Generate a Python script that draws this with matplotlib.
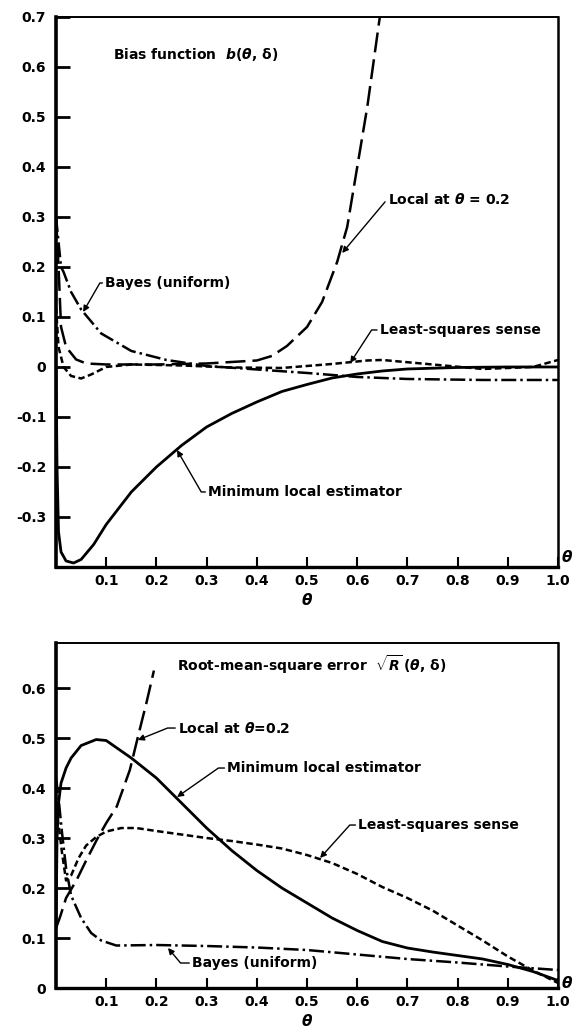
import matplotlib
matplotlib.use('Agg')
import matplotlib.pyplot as plt

# --- DATOS ---

# Panel superior: función de sesgo b(theta, delta)
theta_min_b = [0.0, 0.002, 0.005, 0.01, 0.02, 0.035, 0.05, 0.075, 0.1, 0.15, 0.2, 0.25,
               0.3, 0.35, 0.4, 0.45, 0.5, 0.55, 0.6, 0.65, 0.7, 0.8, 0.9, 1.0]
bias_min = [0.0, -0.2, -0.33, -0.37, -0.388, -0.392, -0.385, -0.355, -0.315, -0.25, -0.2, -0.157,
            -0.12, -0.093, -0.07, -0.049, -0.035, -0.022, -0.014, -0.008, -0.004, -0.001, 0.0, 0.0]

theta_local_b = [0.0, 0.005, 0.01, 0.02, 0.04, 0.06, 0.1, 0.2, 0.3, 0.4, 0.43, 0.46,
                 0.5, 0.53, 0.56, 0.58, 0.6, 0.62, 0.645]
bias_local = [0.3, 0.2, 0.08, 0.04, 0.015, 0.007, 0.005, 0.005, 0.007, 0.013, 0.022, 0.042,
              0.08, 0.13, 0.21, 0.28, 0.40, 0.52, 0.70]

theta_ls_b = [0.0, 0.005, 0.015, 0.03, 0.05, 0.07, 0.1, 0.15, 0.25, 0.35, 0.45, 0.55,
              0.62, 0.65, 0.75, 0.85, 0.95, 1.0]
bias_ls = [0.12, 0.04, 0.0, -0.018, -0.023, -0.015, 0.0, 0.005, 0.003, -0.001, -0.002, 0.006,
           0.013, 0.014, 0.005, -0.004, 0.0, 0.014]

theta_bayes_b = [0.0, 0.01, 0.015, 0.03, 0.05, 0.09, 0.15, 0.22, 0.3, 0.4, 0.5, 0.6, 0.7, 0.85, 1.0]
bias_bayes = [0.3, 0.2, 0.19, 0.15, 0.115, 0.067, 0.032, 0.014, 0.002, -0.005, -0.012, -0.02,
              -0.024, -0.026, -0.026]

# Panel inferior: error cuadrático medio (raíz)
theta_min_r = [0.0, 0.002, 0.005, 0.01, 0.02, 0.03, 0.05, 0.08, 0.1, 0.15, 0.2, 0.25, 0.3,
               0.35, 0.4, 0.45, 0.5, 0.55, 0.6, 0.65, 0.7, 0.75, 0.8, 0.85, 0.9, 0.95, 1.0]
rmse_min = [0.12, 0.3, 0.37, 0.41, 0.44, 0.46, 0.485, 0.497, 0.495, 0.46, 0.42, 0.37, 0.32,
            0.275, 0.235, 0.2, 0.17, 0.14, 0.115, 0.093, 0.08, 0.072, 0.065, 0.058, 0.047, 0.033, 0.015]

theta_local_r = [0.0, 0.008, 0.02, 0.041, 0.06, 0.081, 0.1, 0.121, 0.147, 0.165, 0.18, 0.195]
rmse_local = [0.12, 0.142, 0.18, 0.216, 0.255, 0.296, 0.33, 0.363, 0.436, 0.51, 0.57, 0.635]

theta_ls_r = [0.0, 0.006, 0.012, 0.02, 0.03, 0.045, 0.06, 0.08, 0.1, 0.13, 0.16, 0.2, 0.25,
              0.3, 0.35, 0.4, 0.45, 0.5, 0.55, 0.6, 0.65, 0.7, 0.75, 0.8, 0.85, 0.9, 0.95, 1.0]
rmse_ls = [0.36, 0.32, 0.27, 0.215, 0.225, 0.26, 0.285, 0.302, 0.313, 0.32, 0.32, 0.314, 0.307,
           0.3, 0.294, 0.287, 0.279, 0.266, 0.25, 0.228, 0.202, 0.18, 0.155, 0.125, 0.095, 0.063, 0.035, 0.01]

theta_bayes_r = [0.0, 0.005, 0.012, 0.02, 0.03, 0.05, 0.07, 0.09, 0.12, 0.2, 0.3, 0.4, 0.5,
                 0.6, 0.7, 0.8, 0.9, 1.0]
rmse_bayes = [0.42, 0.38, 0.31, 0.24, 0.185, 0.14, 0.11, 0.095, 0.085, 0.086, 0.084, 0.081,
              0.076, 0.067, 0.058, 0.051, 0.043, 0.036]

x_ticks = [0.1, 0.2, 0.3, 0.4, 0.5, 0.6, 0.7, 0.8, 0.9, 1.0]
x_ticklabels = ['0.1', '0.2', '0.3', '0.4', '0.5', '0.6', '0.7', '0.8', '0.9', '1.0']
y_ticks_top = [0.7, 0.6, 0.5, 0.4, 0.3, 0.2, 0.1, 0.0, -0.1, -0.2, -0.3]
y_ticklabels_top = ['0.7', '0.6', '0.5', '0.4', '0.3', '0.2', '0.1', '0', '-0.1', '-0.2', '-0.3']
y_ticks_bot = [0.6, 0.5, 0.4, 0.3, 0.2, 0.1, 0.0]
y_ticklabels_bot = ['0.6', '0.5', '0.4', '0.3', '0.2', '0.1', '0']

# --- ESTILO ---
plt.rcParams['font.family'] = ['DejaVu Sans']
plt.rcParams['mathtext.fontset'] = 'custom'
plt.rcParams['mathtext.it'] = 'DejaVu Sans:bold:italic'
plt.rcParams['mathtext.rm'] = 'DejaVu Sans:bold'
plt.rcParams['mathtext.bf'] = 'DejaVu Sans:bold'

LW = 1.8
st_solid = dict(color='black', lw=2.0, linestyle='-')
st_local = dict(color='black', lw=LW, linestyle=(0, (8, 2.8)))
st_ls = dict(color='black', lw=LW, linestyle=(0, (2.6, 1.4)))
st_bayes = dict(color='black', lw=LW, linestyle=(0, (6, 1.6, 1.0, 1.6)))

TXT = dict(fontsize=10, fontweight='bold', color='black')


def arrow_props(angle_b):
    return dict(arrowstyle='-|>', color='black', lw=1.0, mutation_scale=9,
                shrinkA=0, shrinkB=0, relpos=(0, 0.5),
                connectionstyle=f'angle,angleA=0,angleB={angle_b},rad=0')


def style_axes(ax, yticks, ylabels):
    ax.set_xlim(0, 1.0)
    ax.set_xticks(x_ticks)
    ax.set_xticklabels(x_ticklabels)
    ax.set_yticks(yticks)
    ax.set_yticklabels(ylabels)
    ax.tick_params(axis='y', direction='in', length=10, width=2, pad=7, labelsize=10)
    ax.tick_params(axis='x', direction='in', length=7, width=1.5, pad=5, labelsize=10)
    for lab in ax.get_xticklabels() + ax.get_yticklabels():
        lab.set_fontweight('bold')
    ax.spines['left'].set_linewidth(2.6)
    ax.spines['bottom'].set_linewidth(2.4)
    ax.spines['right'].set_linewidth(1.8)
    ax.spines['top'].set_linewidth(1.4)
    ax.set_xlabel(r'$\theta$', fontsize=11, labelpad=3)


fig = plt.figure(figsize=(5.74, 10.35), dpi=100)
ax1 = fig.add_axes([0.0976, 0.4522, 0.8746, 0.5314])
ax2 = fig.add_axes([0.0976, 0.0454, 0.8746, 0.3333])

# --- PANEL SUPERIOR ---
ax1.plot(theta_min_b, bias_min, **st_solid)
ax1.plot(theta_local_b, bias_local, **st_local)
ax1.plot(theta_ls_b, bias_ls, **st_ls)
ax1.plot(theta_bayes_b, bias_bayes, **st_bayes)
ax1.set_ylim(-0.4, 0.7)
style_axes(ax1, y_ticks_top, y_ticklabels_top)

ax1.text(0.113, 0.624, r'Bias function  $b(\theta,\,\mathrm{\delta})$', va='center', ha='left', **TXT)
ax1.annotate('Bayes (uniform)', xy=(0.054, 0.11), xytext=(0.098, 0.168),
             va='center', ha='left', arrowprops=arrow_props(60), **TXT)
ax1.annotate(r'Local at $\theta$ = 0.2', xy=(0.57, 0.228), xytext=(0.661, 0.334),
             va='center', ha='left', arrowprops=arrow_props(50), **TXT)
ax1.annotate('Least-squares sense', xy=(0.586, 0.008), xytext=(0.645, 0.074),
             va='center', ha='left', arrowprops=arrow_props(57), **TXT)
ax1.annotate('Minimum local estimator', xy=(0.241, -0.166), xytext=(0.303, -0.25),
             va='center', ha='left', arrowprops=arrow_props(-60), **TXT)
ax1.text(1.006, -0.38, r'$\theta$', fontsize=11, va='center', ha='left', clip_on=False)

# --- PANEL INFERIOR ---
ax2.plot(theta_min_r, rmse_min, **st_solid)
ax2.plot(theta_local_r, rmse_local, **st_local)
ax2.plot(theta_ls_r, rmse_ls, **st_ls)
ax2.plot(theta_bayes_r, rmse_bayes, **st_bayes)
ax2.set_ylim(0, 0.69)
style_axes(ax2, y_ticks_bot, y_ticklabels_bot)

ax2.text(0.241, 0.646, r'Root-mean-square error  $\sqrt{R}\,(\theta,\,\mathrm{\delta})$',
         va='center', ha='left', **TXT)
ax2.annotate(r'Local at $\theta$=0.2', xy=(0.163, 0.496), xytext=(0.243, 0.52),
             va='center', ha='left', arrowprops=arrow_props(22), **TXT)
ax2.annotate('Minimum local estimator', xy=(0.241, 0.382), xytext=(0.341, 0.44),
             va='center', ha='left', arrowprops=arrow_props(35), **TXT)
ax2.annotate('Least-squares sense', xy=(0.526, 0.26), xytext=(0.602, 0.326),
             va='center', ha='left', arrowprops=arrow_props(48), **TXT)
ax2.annotate('Bayes (uniform)', xy=(0.223, 0.08), xytext=(0.271, 0.05),
             va='center', ha='left', arrowprops=arrow_props(-50), **TXT)
ax2.text(1.006, 0.01, r'$\theta$', fontsize=11, va='center', ha='left', clip_on=False)

fig.savefig('out.png', dpi=100)
